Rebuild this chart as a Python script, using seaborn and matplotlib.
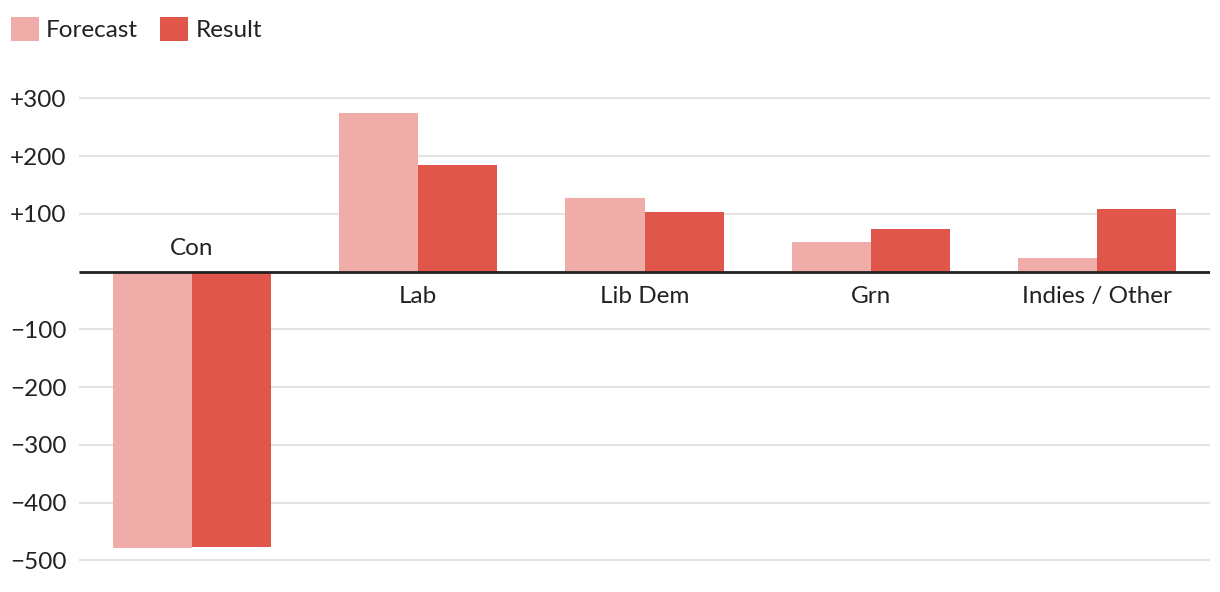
import pandas as pd
import matplotlib.pyplot as plt
import seaborn as sns
from matplotlib.patches import Patch

# data (seat change)
parties = ['Con', 'Lab', 'Lib Dem', 'Grn', 'Indies / Other']
forecast = [-479, 274, 128, 52, 24]
result = [-476, 185, 104, 74, 109]
series_names = ['Forecast', 'Result']
colors = ['#EFACA8', '#E0564A']
y_ticks = [-500, -400, -300, -200, -100, 0, 100, 200, 300]

df = pd.DataFrame({
    'party': parties * 2,
    'change': forecast + result,
    'series': [series_names[0]] * len(parties) + [series_names[1]] * len(parties),
})

sns.set_theme(style='white')
plt.rcParams['font.family'] = ['Lato', 'DejaVu Sans']
text_col = '#222222'
fs = 17.5

fig = plt.figure(figsize=(12.2, 5.92), dpi=100)
ax = fig.add_axes([79 / 1220, 12 / 592, 1131 / 1220, 500 / 592])

sns.barplot(data=df, x='party', y='change', hue='series', order=parties,
            hue_order=series_names, palette=colors, width=0.7, gap=0,
            saturation=1, linewidth=0, ax=ax, legend=False, zorder=3)

x0, x1 = -0.5, len(parties) - 0.5
ax.set_ylim(-534, 332)
ax.set_xlim(x0, x1)
ax.set_yticks(y_ticks)
ax.set_yticklabels(['' if v == 0 else (f'+{v}' if v > 0 else f'\u2212{abs(v)}')
                    for v in y_ticks], fontsize=fs, color=text_col)
ax.tick_params(axis='y', length=0, pad=9)
ax.set_xticks([])
ax.set_xlabel('')
ax.set_ylabel('')
ax.grid(axis='y', color='#e3e3e3', linewidth=1.5, zorder=0)
ax.set_axisbelow(True)
for s in ax.spines.values():
    s.set_visible(False)
# zero line, only across the plot area
ax.plot([x0, x1], [0, 0], color='#222222', linewidth=2, zorder=4,
        solid_capstyle='butt')

# category labels sit on the opposite side of the bars
for i, p in enumerate(parties):
    lo = min(forecast[i], result[i])
    if lo < 0:
        ax.annotate(p, (i, 0), xytext=(0, 9), textcoords='offset points',
                    ha='center', va='bottom', fontsize=fs, color=text_col)
    else:
        ax.annotate(p, (i, 0), xytext=(0, -10), textcoords='offset points',
                    ha='center', va='top', fontsize=fs, color=text_col)

handles = [Patch(facecolor=c, edgecolor='none', label=n) for c, n in zip(colors, series_names)]
fig.legend(handles=handles, loc='upper left', bbox_to_anchor=(0.0, 0.99), ncol=2,
           frameon=False, fontsize=fs, handlelength=1.15, handleheight=1.15,
           handletextpad=0.3, columnspacing=0.9, borderaxespad=0.05,
           labelcolor=text_col)

plt.savefig('out.png', dpi=100)
